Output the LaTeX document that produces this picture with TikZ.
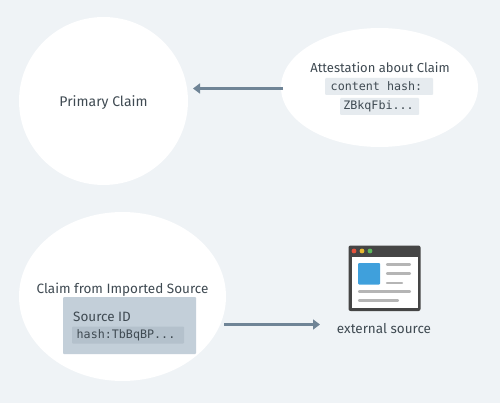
\documentclass[tikz,border=0pt]{standalone}
\usepackage{fontspec}
\setmainfont{Fira Sans}
\setmonofont{DejaVu Sans Mono}
\usetikzlibrary{arrows.meta,shapes.geometric}
\definecolor{bgc}{HTML}{EFF3F6}
\definecolor{inkc}{HTML}{3F4A52}
\definecolor{arrowc}{HTML}{6F8496}
\definecolor{codebg}{HTML}{E6EBEF}
\definecolor{boxc}{HTML}{C3CFD9}
\definecolor{codedark}{HTML}{B4C1CC}
\definecolor{framec}{HTML}{454545}
\definecolor{linec}{HTML}{B5B5B5}
\definecolor{dotr}{HTML}{E5533D}
\definecolor{doty}{HTML}{E8B931}
\definecolor{dotg}{HTML}{5CB85C}
\definecolor{iconb}{HTML}{3FA0DC}
\tikzset{
  blob/.style={ellipse,fill=white,draw=none,inner sep=0pt},
  label text/.style={text=inkc,font=\fontsize{13.5}{15}\selectfont,inner sep=0pt},
  code text/.style={text=inkc,font=\ttfamily\fontsize{11.7}{13}\selectfont,fill=codebg,rounded corners=1pt,inner sep=0pt,minimum height=17pt},
  link/.style={draw=arrowc,line width=2.6pt,-{Triangle[length=7pt,width=10pt]}},
  bar/.style={draw=linec,line width=2.2pt,line cap=round}
}
\begin{document}
\begin{tikzpicture}[x=1pt,y=-1pt]
\useasboundingbox (0,0) rectangle (500,403);
\fill[bgc] (0,0) rectangle (500,403);
\node[blob,minimum width=169pt,minimum height=168pt] (primary) at (103.5,101) {};
\node[blob,minimum width=197pt,minimum height=119pt] (attest) at (379.5,87.5) {};
\node[blob,minimum width=207pt,minimum height=169pt] (imported) at (122.5,296.5) {};
\node[label text,font=\fontsize{14}{15}\selectfont] (primarylabel) at (103.5,103) {Primary Claim};
\node[label text,font=\fontsize{13}{15}\selectfont] (attestlabel) at (380,67.5) {Attestation about Claim};
\node[code text,minimum width=108pt] (contenthash) at (379,86.5) {content hash:\hspace*{5pt}};
\node[code text,minimum width=79pt] (zb) at (379.5,106.5) {ZBkqFbi...\hspace*{2pt}};
\node[label text] (importedlabel) at (122.5,289.5) {Claim from Imported Source};
\node[fill=boxc,rounded corners=1pt,minimum width=133pt,minimum height=57pt,inner sep=0pt] (sourcebox) at (129.5,325.5) {};
\node[label text,anchor=west] (sourceid) at (73,317) {Source ID};
\node[code text,fill=codedark,minimum width=112pt] (hash) at (128,335) {hash:TbBqBP...\hspace*{4pt}};
\coordinate (a1) at (283,88.5);
\coordinate (a2) at (193,88.5);
\coordinate (b1) at (224,324.5);
\coordinate (b2) at (320,324.5);
\draw[link] (a1) -- (a2);
\draw[link] (b1) -- (b2);
% browser icon
\fill[framec,rounded corners=2pt] (348.5,245.5) rectangle (420.5,311);
\fill[white] (351.5,256.5) rectangle (418,307.5);
\fill[dotr] (354,251) circle (2.4pt);
\fill[doty] (362,251) circle (2.4pt);
\fill[dotg] (370,251) circle (2.4pt);
\fill[iconb,rounded corners=1pt] (358,263) rectangle (380,284.5);
\draw[bar] (387,264.5) -- (410,264.5);
\draw[bar] (387,273.5) -- (410,273.5);
\draw[bar] (387,283) -- (402,283);
\draw[bar] (359,291.5) -- (410,291.5);
\draw[bar] (359,300.5) -- (398,300.5);
\node[label text] (external) at (384,329) {external source};
\end{tikzpicture}
\end{document}
